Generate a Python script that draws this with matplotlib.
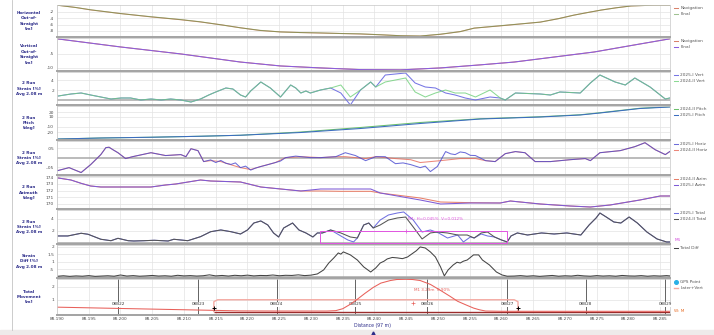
import numpy as np
import matplotlib.pyplot as plt
from matplotlib.lines import Line2D
from matplotlib.patches import Rectangle

plt.rcParams['axes.unicode_minus'] = False

W, H = 714, 335
KM0 = 88.190          # chainage of the first station [km]
NAVY = '#2d2d8a'
GRID = '#e3e3e3'

# ---------------- data: offsets in metres from KM0 ----------------
# horizontal out-of-straight [m]
hx = [0.2, 3.0, 5.3, 10.0, 14.8, 19.5, 22.6, 26.0, 28.9, 32.0, 35.2, 38.4, 41.5, 44.7, 47.8, 51.0,
      54.1, 57.2, 60.4, 63.5, 65.7, 70.0, 76.1, 79.0, 81.4, 83.5, 85.7, 88.0, 90.4, 94.0, 96.5]
h_nav = [0.1, -0.6, -1.35, -2.5, -3.55, -4.45, -5.15, -6.1, -7.0, -7.85, -8.3, -8.5, -8.65, -8.8, -8.95, -9.2,
         -9.5, -9.6, -9.05, -8.2, -7.1, -6.35, -5.2, -4.1, -3.0, -2.2, -1.4, -0.7, -0.1, 0.15, 0.15]
h_final = [0.1, -0.6, -1.3, -2.5, -3.5, -4.4, -5.1, -6.1, -7.0, -7.8, -8.3, -8.5, -8.6, -8.8, -8.9, -9.2,
           -9.5, -9.6, -9.0, -8.2, -7.1, -6.3, -5.2, -4.1, -3.0, -2.2, -1.4, -0.7, -0.1, 0.15, 0.15]

# vertical out-of-straight [m]
vx = [0.2, 10.0, 19.5, 28.9, 35.2, 41.5, 47.8, 54.1, 60.4, 66.7, 72.0, 78.3, 84.6, 90.9, 96.5]
v_nav = [0.35, -2.5, -5.0, -7.9, -9.3, -10.0, -10.6, -10.7, -10.0, -8.9, -7.9, -6.1, -4.3, -1.8, 0.4]
v_final = [0.35, -2.5, -5.0, -7.9, -9.3, -10.0, -10.6, -10.7, -10.0, -8.9, -7.9, -6.1, -4.3, -1.8, 0.4]

# vertical strain [%]
vert_x = [0.2, 2.2, 3.8, 5.3, 6.9, 8.5, 10.1, 11.6, 13.2, 14.8, 16.4, 17.9, 19.5, 21.1, 22.6, 23.9,
          25.0, 26.6, 27.7, 28.9, 29.7, 30.5, 32.1, 33.6, 35.2, 36.0, 36.8, 37.6, 38.4, 39.2, 39.9,
          41.5, 43.1, 44.7, 46.2, 47.8, 49.4, 50.2, 51.7, 53.3, 54.9, 56.4, 58.0, 59.6, 61.2, 62.7,
          64.3, 65.9, 68.2, 69.8, 70.6, 72.2, 76.1, 77.7, 79.2, 82.4, 84.0, 85.5, 87.9, 89.5, 91.0,
          93.4, 95.0, 95.8, 96.5]
vert_2025 = [0.8, 1.2, 1.4, 1.0, 0.6, 0.2, 0.4, 0.4, 0.0, 0.2, 0.0, 0.2, 0.0, -0.4, 0.2, 1.0,
             1.6, 2.4, 2.2, 1.0, 0.6, 1.8, 3.6, 2.4, 0.6, 1.8, 3.0, 2.4, 1.4, 1.8, 1.4,
             2.0, 2.4, 1.4, -1.0, 2.0, 3.6, 2.6, 5.0, 5.2, 5.4, 3.4, 2.6, 2.4, 1.4, 1.0,
             0.4, 0.0, 0.6, 0.4, 0.0, 1.4, 1.2, 1.0, 1.6, 1.4, 3.4, 5.0, 3.6, 3.0, 4.4,
             2.6, 1.0, 0.2, 0.4]
vert_2024 = [0.8, 1.2, 1.4, 1.0, 0.6, 0.2, 0.4, 0.4, 0.0, 0.2, 0.0, 0.2, 0.0, -0.4, 0.2, 1.0,
             1.6, 2.4, 2.2, 1.0, 0.6, 1.8, 3.6, 2.4, 0.6, 1.8, 3.0, 2.4, 1.4, 1.8, 1.4,
             2.0, 2.4, 3.0, 0.6, 2.0, 3.6, 2.6, 3.6, 4.0, 4.4, 1.6, 0.6, 1.4, 2.0, 1.4,
             1.4, 0.6, 2.0, 0.4, 0.0, 1.4, 1.2, 1.0, 1.6, 1.4, 3.4, 5.0, 3.6, 3.0, 4.4,
             2.6, 1.0, 0.2, 0.4]

# pitch [deg]
pitch_x = [0.2, 6.9, 14.8, 22.6, 28.9, 38.4, 47.8, 57.2, 66.7, 76.1, 82.4, 85.5, 91.8, 96.5]
pitch_2024 = [-34, -32, -30.5, -28.5, -26.5, -20, -11, -1, 6.5, 10.5, 14.5, 18.5, 27.5, 30.5]
pitch_2025 = [-34, -32, -30.5, -28.5, -26.5, -21, -13, -3, 6, 10, 14, 18, 27, 30]

# horizontal strain [%]
horiz_left_x = [0.2, 1.9, 3.8, 5.3, 6.9, 7.7, 8.2, 8.8, 9.6, 10.8, 11.9, 14.8, 17.1, 19.5, 20.3, 21.1, 22.2, 23.1]
horiz_left_v = [-0.068, -0.053, -0.079, -0.037, 0.016, 0.053, 0.055, 0.042, 0.026, -0.005, 0.005, 0.026,
                0.011, 0.016, 0.005, 0.047, 0.037, -0.021]
horiz25_mid_x = [24.2, 25.0, 25.8, 26.6, 27.4, 28.1, 28.9, 29.7, 30.5, 31.3, 32.1, 32.9, 34.4, 35.2, 36.0,
                 37.6, 38.4, 39.9, 41.5, 43.9, 45.4, 47.0, 48.6, 50.2, 51.7, 53.3, 54.5, 55.7, 57.2, 58.0,
                 58.8, 59.9, 61.2, 62.0, 62.7, 63.5, 64.3, 65.1, 65.9, 67.5]
horiz25_mid_v = [-0.012, -0.026, -0.015, -0.030, -0.036, -0.028, -0.053, -0.045, -0.066, -0.055, -0.047,
                 -0.040, -0.026, -0.018, 0.0, 0.008, 0.005, 0.0, 0.0, 0.005, 0.026, 0.011, -0.016, 0.005,
                 0.005, -0.032, -0.028, -0.037, -0.053, -0.045, -0.074, -0.047, 0.032, 0.020, 0.016,
                 0.030, 0.026, 0.012, 0.011, -0.016]
horiz24_mid_x = [24.2, 25.8, 27.8, 28.9, 30.5, 32.1, 34.4, 36.0, 38.4, 41.5, 43.9, 45.4, 48.6, 50.2,
                 53.3, 55.7, 57.2, 58.8, 60.4, 63.5, 65.9, 67.5]
horiz24_mid_v = [-0.016, -0.021, -0.042, -0.053, -0.063, -0.047, -0.026, 0.0, 0.005, 0.0, 0.005, 0.005,
                 -0.005, 0.005, -0.005, -0.011, -0.026, -0.021, -0.016, -0.005, -0.005, -0.016]
horiz_right_x = [69.0, 70.6, 72.2, 73.7, 75.3, 77.7, 80.8, 83.2, 84.0, 85.5, 88.7, 91.0, 92.6, 94.2, 95.8, 96.5]
horiz_right_v = [-0.021, 0.021, 0.032, 0.026, -0.021, -0.021, -0.011, -0.005, -0.016, 0.026, 0.037,
                 0.058, 0.079, 0.042, 0.016, 0.032]

# azimuth [deg]
azim_x = [0.2, 2.2, 3.8, 5.3, 6.9, 14.8, 17.1, 18.7, 22.6, 24.2, 28.9, 32.1, 38.4, 41.5, 44.7, 49.4,
          50.9, 57.2, 60.4, 65.1, 69.8, 71.4, 76.1, 80.8, 84.0, 87.1, 91.8, 95.0, 96.5]
azim_2024 = [173.9, 173.6, 173.1, 172.7, 172.55, 172.55, 172.85, 173.0, 173.6, 173.45, 173.3, 172.55,
             171.95, 171.95, 171.9, 171.9, 171.65, 170.9, 170.3, 170.2, 170.15, 170.45, 170.0, 169.7,
             169.55, 169.85, 170.6, 171.2, 171.2]
azim_2025 = [173.9, 173.6, 173.1, 172.7, 172.55, 172.55, 172.85, 173.0, 173.6, 173.45, 173.3, 172.55,
             171.95, 172.25, 172.25, 172.25, 171.65, 170.6, 170.0, 170.15, 170.15, 170.45, 170.0, 169.7,
             169.55, 169.85, 170.6, 171.2, 171.2]

# total strain [%]
total_left_x = [0.2, 1.7, 3.8, 4.9, 6.9, 8.5, 9.6, 11.2, 12.1, 13.7, 15.3, 17.5, 18.4, 20.6, 22.6, 24.2,
                25.8, 27.4, 28.9, 30.0, 31.0, 32.1, 33.2, 34.1, 34.9, 35.7, 37.1, 38.1, 39.2, 40.3, 41.0,
                41.8, 43.1]
total_left_v = [1.17, 1.17, 1.62, 1.45, 0.62, 0.38, 0.78, 0.38, 0.33, 0.38, 0.45, 0.33, 0.62, 0.38, 1.05,
                1.88, 2.17, 1.88, 1.5, 2.17, 3.33, 3.67, 3.0, 1.67, 1.0, 2.5, 3.33, 2.17, 1.67, 1.0, 1.67,
                1.67, 2.17]
total25_mid_x = [44.7, 45.8, 46.7, 47.3, 48.3, 49.1, 49.8, 50.9, 52.2, 53.6, 54.6, 56.1, 57.5, 58.8, 60.1,
                 61.5, 63.1, 64.0, 65.1, 65.7, 66.8, 67.8, 68.9, 70.0, 70.9]
total25_mid_v = [1.17, 0.5, 0.17, 0.83, 3.0, 3.33, 2.5, 3.83, 4.67, 5.0, 5.17, 3.83, 1.83, 2.17, 1.67,
                 0.83, 1.33, 0.17, 1.0, 0.83, 1.5, 1.17, 1.0, 0.5, 0.17]
total24_mid_x = [44.7, 46.2, 47.3, 48.3, 49.1, 49.8, 50.9, 52.2, 53.6, 54.9, 56.1, 57.5, 58.8, 59.9, 61.5,
                 63.1, 64.6, 65.7, 66.8, 67.8, 68.9, 70.0, 70.9]
total24_mid_v = [1.67, 1.0, 0.83, 3.0, 3.33, 2.5, 3.0, 3.83, 4.17, 4.33, 2.67, 0.67, 1.67, 1.83, 1.67,
                 1.33, 1.33, 0.83, 1.67, 1.83, 1.0, 0.5, 0.17]
total_right_x = [71.5, 72.5, 74.1, 76.3, 78.3, 80.3, 82.5, 83.8, 84.9, 85.5, 86.5, 87.7, 88.8, 90.1, 91.4,
                 92.9, 94.5, 96.0, 96.5]
total_right_v = [1.17, 1.67, 1.33, 1.67, 1.5, 1.67, 1.33, 3.0, 4.17, 5.0, 4.33, 3.5, 3.33, 4.33, 3.33,
                 1.83, 0.67, 0.17, 0.17]

# M1 marker window on the total strain track
m1_start, m1_end, m1_level, m1_mark = 41.4, 70.8, 2.0, 54.9

# strain difference [%]
diff_left_x = [0.2, 1, 2, 3, 4, 5, 6, 7, 8, 9, 10, 11, 12, 13, 14, 15, 16, 17, 18, 19, 20, 21, 22, 23,
               24, 25, 26, 27, 28, 29, 30, 31, 32, 33, 34, 35, 36, 37, 38, 39, 40, 41]
diff_left_v = [0.05, 0.08, 0.04, 0.07, 0.05, 0.09, 0.04, 0.06, 0.08, 0.05, 0.13, 0.06, 0.09, 0.05, 0.07,
               0.10, 0.06, 0.08, 0.05, 0.11, 0.07, 0.09, 0.06, 0.08, 0.14, 0.07, 0.10, 0.06, 0.11, 0.08,
               0.12, 0.07, 0.10, 0.09, 0.13, 0.08, 0.11, 0.10, 0.14, 0.09, 0.12, 0.20]
diff_mid_x = [42.0, 42.8, 43.6, 44.3, 44.7, 45.1, 45.6, 46.2, 47.3, 48.3, 49.4, 50.2, 50.9, 51.5, 52.0,
              52.8, 53.6, 54.4, 55.2, 56.1, 56.6, 57.2, 58.0, 58.8, 59.6, 60.4, 61.0, 61.6, 62.4, 63.0,
              63.5, 64.0, 64.6, 65.1, 65.6, 66.4, 67.0, 68.1, 69.2, 70.1, 70.9]
diff_mid_v = [0.47, 0.93, 1.27, 1.6, 1.52, 1.67, 1.58, 1.47, 1.13, 0.67, 0.33, 0.6, 0.93, 1.05, 1.2,
              1.3, 1.27, 1.22, 1.33, 1.6, 1.75, 2.0, 1.93, 1.67, 1.33, 0.67, 0.07, 0.47, 0.8, 0.98,
              0.93, 1.05, 1.13, 1.3, 1.47, 1.47, 1.13, 0.8, 0.33, 0.13, 0.05]
diff_right_x = [72, 73, 74, 75, 76, 77, 78, 79, 80, 81, 82, 83, 84, 85, 86, 87, 88, 89, 90, 91, 92, 93,
                94, 95, 96, 96.5]
diff_right_v = [0.06, 0.09, 0.05, 0.08, 0.04, 0.07, 0.10, 0.05, 0.08, 0.06, 0.11, 0.07, 0.05, 0.09, 0.06,
                0.08, 0.05, 0.10, 0.07, 0.06, 0.09, 0.05, 0.08, 0.06, 0.09, 0.07]

# total movement [m]
move_x = [0.2, 10.0, 20.0, 28.9, 35.0, 42.5, 43.9, 45.0, 46.2, 47.3, 48.5, 49.8, 51.0, 52.5, 53.5,
          54.9, 56.0, 57.2, 58.8, 60.4, 61.8, 63.1, 64.4, 65.6, 66.5, 67.5, 70.0, 80.0, 96.5]
move_v = [0.42, 0.32, 0.22, 0.13, 0.12, 0.12, 0.15, 0.3, 0.65, 1.04, 1.5, 1.96, 2.3, 2.5, 2.58,
          2.6, 2.58, 2.5, 2.2, 1.73, 1.3, 0.88, 0.6, 0.35, 0.22, 0.12, 0.1, 0.1, 0.1]
window_start, window_end, window_level, w_level = 24.7, 72.6, 1.0, 0.08
mark_level = 0.35
m1_move_ch, m1_move_v = 56.0, 0.72

gps_ch = [9.6, 22.2, 34.6, 47.0, 58.3, 70.9, 83.3, 95.8]
gps_names = ['08B22', '08B23', '08B24', '08B25', '08B26', '08B27', '08B28', '08B29']

x_ticks = [88.190, 88.195, 88.200, 88.205, 88.210, 88.215, 88.220, 88.225, 88.230, 88.235,
           88.240, 88.245, 88.250, 88.255, 88.260, 88.265, 88.270, 88.275, 88.280, 88.285]


def km(m):
    return KM0 + np.asarray(m, dtype=float) / 1000.0


fig = plt.figure(figsize=(W / 100, H / 100), dpi=100)


def panel(top, bottom, label, yticks, ylim, ylabels=None):
    ax = fig.add_axes([57 / W, 1 - bottom / H, 613 / W, (bottom - top) / H])
    ax.set_xlim(88.19016, 88.28654)
    ax.set_ylim(*ylim)
    ax.set_xticks(x_ticks)
    ax.set_yticks(yticks)
    if ylabels:
        ax.set_yticklabels(ylabels)
    ax.grid(True, color=GRID, lw=0.5)
    ax.set_axisbelow(True)
    ax.tick_params(length=0, labelsize=3.1, labelcolor='#4a4a4a', pad=2.2, labelbottom=False)
    for s in ('left', 'right', 'top'):
        ax.spines[s].set_color('#c6c6c6')
        ax.spines[s].set_linewidth(0.5)
    ax.spines['bottom'].set_color('#a3a3a3')
    ax.spines['bottom'].set_linewidth(1.4)
    fig.text(29 / W, 1 - (top + bottom) / 2 / H, label, ha='center', va='center',
             fontsize=3.0, color=NAVY, fontweight='bold', linespacing=1.45)
    return ax


def side_legend(ax, top, handles=None):
    kw = dict(loc='upper left', bbox_to_anchor=(674 / W, 1 - (top + 1) / H),
              bbox_transform=fig.transFigure, fontsize=3.1, frameon=False,
              handlelength=1.0, handletextpad=0.5, labelspacing=0.5,
              borderpad=0, borderaxespad=0)
    leg = ax.legend(handles=handles, **kw) if handles else ax.legend(**kw)
    for t in leg.get_texts():
        t.set_color('#555555')
    return leg


def zero_line(ax):
    ax.axhline(0, color='#a8a8a8', lw=1.1, zorder=1.5)


lw = 0.75

# 1: horizontal out-of-straight
ax = panel(5, 37, 'Horizontal\nOut-of-\nStraight\n[m]', [-2, -4, -6, -8], (-9.9, 0.2))
ax.plot(km(hx), h_nav, color='#d9826b', lw=lw, label='Navigation')
ax.plot(km(hx), h_final, color='#5f9a4a', lw=lw, alpha=0.6, label='Final')
side_legend(ax, 5)

# 2: vertical out-of-straight
ax = panel(38, 71, 'Vertical\nOut-of-\nStraight\n[m]', [-5, -10], (-11.1, 0.7))
ax.plot(km(vx), v_nav, color='#d9826b', lw=lw, label='Navigation')
ax.plot(km(vx), v_final, color='#8a5ee0', lw=lw, label='Final')
side_legend(ax, 38)

# 3: vertical strain
ax = panel(72, 105, '2 Run\nStrain [%]\nAvg 2.08 m', [2, 4], (-1.0, 5.6))
zero_line(ax)
ax.plot(km(vert_x), vert_2025, color='#7676e4', lw=lw, label='2025-I Vert')
ax.plot(km(vert_x), vert_2024, color='#6fd07a', lw=lw, alpha=0.8, label='2024-II Vert')
side_legend(ax, 72)

# 4: pitch
ax = panel(106, 140, '2 Run\nPitch\n[deg]', [20, 10, -10, -20], (-36, 32))
ax.plot(km(pitch_x), pitch_2024, color='#6cc06c', lw=lw, label='2024-II Pitch')
ax.plot(km(pitch_x), pitch_2025, color='#3c6dc0', lw=lw, label='2025-I Pitch')
side_legend(ax, 106)

# 5: horizontal strain
ax = panel(141, 175, '2 Run\nStrain [%]\nAvg 2.08 m', [0.05, -0.05], (-0.092, 0.088), ['.05', '-.05'])
zero_line(ax)
h25_x = horiz_left_x + horiz25_mid_x + horiz_right_x
h25_v = horiz_left_v + horiz25_mid_v + horiz_right_v
h24_x = horiz_left_x + horiz24_mid_x + horiz_right_x
h24_v = horiz_left_v + horiz24_mid_v + horiz_right_v
l25, = ax.plot(km(h25_x), h25_v, color='#4848d0', lw=lw, alpha=0.8, zorder=3, label='2025-I Horiz')
l24, = ax.plot(km(h24_x), h24_v, color='#e86a5a', lw=lw, alpha=0.8, zorder=2, label='2024-II Horiz')
side_legend(ax, 141, [l25, l24])

# 6: azimuth
ax = panel(176, 209, '2 Run\nAzimuth\n[deg]', [170, 171, 172, 173, 174], (169.25, 174.2))
ax.plot(km(azim_x), azim_2024, color='#e8806a', lw=lw, label='2024-II Azim')
ax.plot(km(azim_x), azim_2025, color='#7d5bd6', lw=lw, label='2025-I Azim')
side_legend(ax, 176)

# 7: total strain with M1 window
ax = panel(210, 244, '2 Run\nStrain [%]\nAvg 2.08 m', [2, 4], (-0.17, 5.5))
zero_line(ax)
t25_x = total_left_x + total25_mid_x + total_right_x
t25_v = total_left_v + total25_mid_v + total_right_v
t24_x = total_left_x + total24_mid_x + total_right_x
t24_v = total_left_v + total24_mid_v + total_right_v
ax.plot(km(t25_x), t25_v, color='#7070e0', lw=lw, label='2025-I Total')
ax.plot(km(t24_x), t24_v, color='#555555', lw=lw, label='2024-II Total')
ax.add_patch(Rectangle((km(m1_start), 0), km(m1_end) - km(m1_start), m1_level,
                       fill=False, ec='#e055e0', lw=0.7, zorder=4))
ax.plot(km(m1_mark), m1_level, '+', color='#e055e0', ms=2.5, mew=0.5, zorder=5)
ax.text(km(m1_mark + 0.4), 4.0, 'M1: H=0.045%  V=0.012%', color='#e055e0', fontsize=3.0,
        va='center', ha='left')
side_legend(ax, 210)
fig.text(675 / W, 1 - 240 / H, 'M1', color='#d040d8', fontsize=3.1, va='center')

# 8: strain difference
ax = panel(245, 278, 'Strain\nDiff [%]\nAvg 2.08 m', [0.5, 1, 1.5, 2], (-0.07, 2.13),
           ['.5', '1', '1.5', '2'])
zero_line(ax)
ax.plot(km(diff_left_x + diff_mid_x + diff_right_x), diff_left_v + diff_mid_v + diff_right_v,
        color='#444444', lw=lw, label='Total Diff')
side_legend(ax, 245)

# 9: total movement
ax = panel(279, 315, 'Total\nMovement\n[m]', [1, 2], (-0.19, 2.62))
for c, name in zip(gps_ch, gps_names):
    ax.axvline(km(c), color='#4a4a4a', lw=0.6, zorder=2)
    ax.text(km(c), 0.65, name, fontsize=3.0, color='#333333', ha='center', va='center', zorder=3,
            bbox=dict(fc='white', ec='none', pad=0.3))
wx = [window_start, window_start, window_start + 0.6, window_end - 0.6, window_end, window_end]
wy = [w_level, window_level - 0.15, window_level, window_level, window_level - 0.15, w_level]
ax.plot(km(wx), wy, color='#f4aaa2', lw=1.0, zorder=2)
ax.hlines(w_level, km(window_start), km(96.5), color='#9b2c2c', lw=1.0, zorder=3)
ax.plot(km(move_x), move_v, color='#e8605a', lw=lw, zorder=4)
ax.plot(km([window_start, window_end]), [mark_level, mark_level], '+', color='black',
        ms=3.5, mew=0.7, ls='none', zorder=5)
ax.plot(km(m1_move_ch), m1_move_v, '+', color='#e8605a', ms=2.5, mew=0.5, zorder=5)
ax.text(km(m1_move_ch + 0.2), 1.75, 'M1 3.29m  0.90%', color='#e8605a', fontsize=3.0,
        va='center', ha='left')
ax.tick_params(labelbottom=True, pad=1.8)
ax.set_xticklabels([f'{t:.3f}' for t in x_ticks])
side_legend(ax, 279, [Line2D([], [], marker='o', ls='none', color='#2ab0e6', ms=2.6),
                      Line2D([], [], color='#f4aaa2', lw=1.0)])
ax.get_legend().get_texts()[0].set_text('GPS Point')
ax.get_legend().get_texts()[1].set_text('Later+Vert')
fig.text(674 / W, 1 - 311 / H, 'W: M', color='#e8702a', fontsize=3.1, va='center')

fig.text(373 / W, 1 - 326 / H, 'Distance (97 m)', color=NAVY, fontsize=3.3, ha='center', va='center')

# window frame: left border and bottom scroll strip
fig.add_artist(Line2D([12 / W, 12 / W], [5 / H, 1], color='#c4c4c4', lw=0.6))
fig.add_artist(Rectangle((0, 0), 1, 5 / H, transform=fig.transFigure, color='#eeeaea', zorder=0))
fig.add_artist(Line2D([373 / W], [2.5 / H], marker='^', color=NAVY, ms=2.2, ls='none'))

fig.savefig('out.png', dpi=100)
